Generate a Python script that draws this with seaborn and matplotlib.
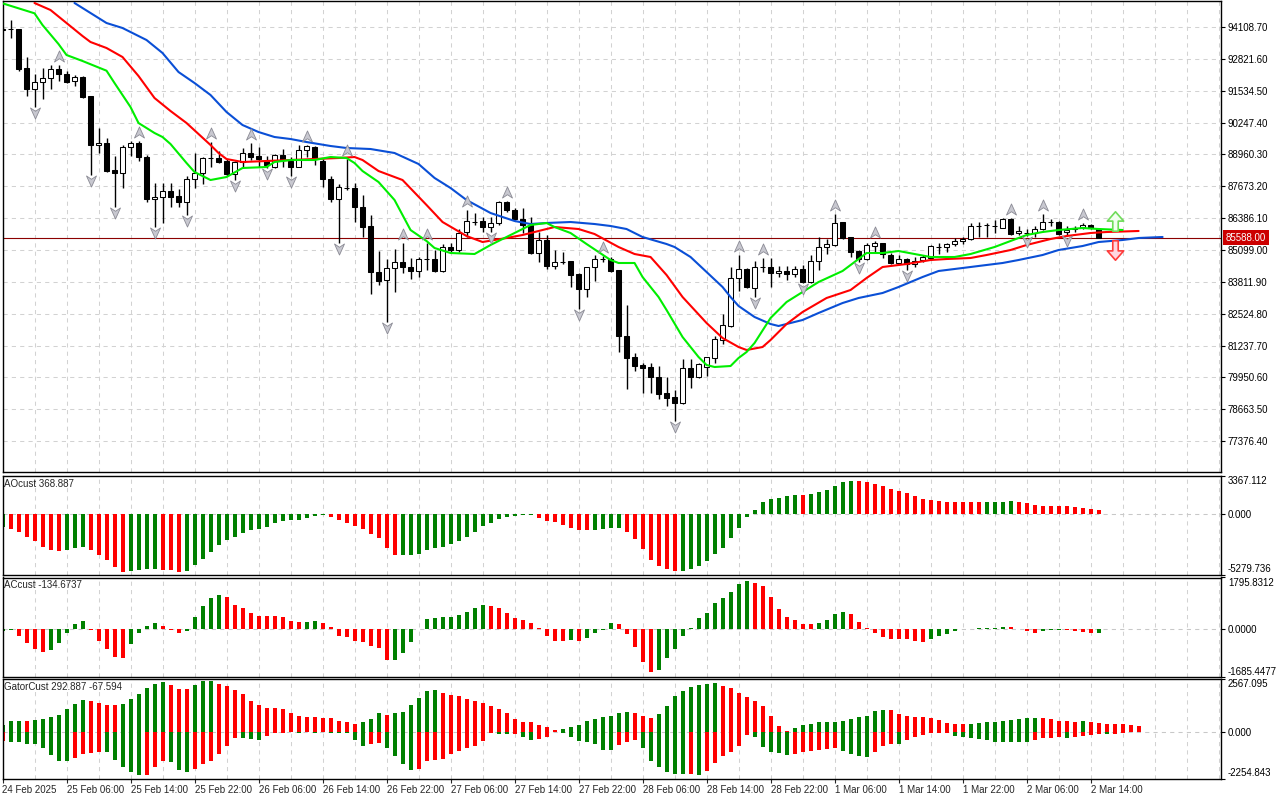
import numpy as np
import matplotlib
matplotlib.use("Agg")
import matplotlib.pyplot as plt
from matplotlib.path import Path
from matplotlib.transforms import offset_copy, blended_transform_factory
import seaborn as sns

sns.set_style("white")
plt.rcParams["font.family"] = ["Liberation Sans", "DejaVu Sans"]
plt.rcParams["font.size"] = 7

# ---------------- data (H1 bars, BTC-like prices) ----------------
time_labels = ["24 Feb 2025", "25 Feb 06:00", "25 Feb 14:00", "25 Feb 22:00",
               "26 Feb 06:00", "26 Feb 14:00", "26 Feb 22:00", "27 Feb 06:00",
               "27 Feb 14:00", "27 Feb 22:00", "28 Feb 06:00", "28 Feb 14:00",
               "28 Feb 22:00", "1 Mar 06:00", "1 Mar 14:00", "1 Mar 22:00",
               "2 Mar 06:00", "2 Mar 14:00"]

opens = [94007, 94027, 94030, 92452, 91603, 91886, 92048, 92411, 92209, 91927,
         92088, 91321, 89341, 89422, 88331, 88210, 89260, 89422, 88856, 87159,
         87240, 87483, 87281, 87038, 87967, 88210, 88816, 88816, 88695, 88169,
         88654, 89018, 88897, 88695, 88452, 88937, 88695, 88452, 89139, 89260,
         88695, 87967, 87159, 87610, 87604, 86836, 86069, 84210, 83887, 84372,
         84614, 84412, 84250, 84735, 84735, 84250, 85220, 85099, 85826, 86230,
         86271, 86028, 86190, 87038, 86715, 86351, 86109, 84978, 85503, 84453,
         84614, 84655, 84129, 83523, 84412, 84735, 84735, 84291, 81625, 80776,
         80453, 80372, 79968, 79321, 79160, 78918, 80331, 79968, 80372, 80736,
         81463, 82029, 83968, 84331, 83564, 84412, 84412, 84170, 84250, 84129,
         84331, 83806, 84655, 85220, 85301, 86230, 85624, 85059, 84735, 85260,
         85382, 84897, 84574, 84735, 84533, 84695, 84776, 85220, 85220, 85341,
         85463, 85543, 86069, 86109, 86069, 85988, 86351, 85786, 85786, 85786,
         85947, 86230, 86230, 85826, 85947, 86028, 86109, 85947]
highs = [94068, 94391, 94040, 92896, 92209, 92452, 92573, 92573, 92331, 92169,
         92129, 91321, 90028, 89624, 88897, 89341, 89503, 89503, 88937, 87806,
         87806, 87806, 87563, 88089, 89018, 88856, 89462, 89099, 88775, 88695,
         89220, 89422, 89260, 88897, 88977, 89179, 88856, 89341, 89341, 89301,
         88775, 88089, 87765, 88775, 87806, 87321, 86513, 85059, 84735, 85139,
         85382, 84776, 84816, 85382, 85099, 85341, 85382, 85947, 86715, 86594,
         86432, 86432, 87079, 87079, 86796, 86796, 86432, 85826, 85705, 85099,
         85018, 84655, 84170, 84412, 84897, 84857, 84816, 84291, 82877, 80938,
         80534, 80534, 80412, 79968, 79443, 80695, 80695, 80534, 80776, 81625,
         82513, 84412, 84897, 84372, 84655, 84776, 84776, 84453, 84453, 84453,
         84493, 84897, 85624, 85543, 86554, 86230, 85624, 85099, 85382, 85463,
         85382, 84978, 84897, 84776, 84816, 84897, 85301, 85382, 85382, 85584,
         85624, 86190, 86230, 86190, 86311, 86392, 86392, 86069, 85947, 86069,
         86554, 86351, 86271, 86069, 86069, 86190, 86150, 85988]
lows = [93987, 93664, 92331, 91321, 90876, 91199, 91603, 91927, 91846, 91725,
        91240, 88129, 89018, 88250, 86836, 87604, 88897, 88695, 87038, 86028,
        86190, 86836, 86836, 86513, 87604, 87765, 88452, 88614, 88089, 87927,
        88452, 88735, 88452, 88412, 88412, 88452, 88089, 88452, 88856, 88533,
        87644, 87038, 85382, 87523, 86230, 85624, 83321, 83685, 82190, 83402,
        84170, 83927, 84008, 84291, 84210, 84210, 85018, 85018, 85624, 86109,
        85826, 85826, 86109, 86634, 86311, 85786, 84937, 84614, 84331, 84331,
        84533, 83604, 82715, 83200, 83847, 84614, 84210, 80978, 79483, 80211,
        79321, 79321, 79079, 78797, 78191, 78877, 79524, 79928, 80009, 80534,
        81301, 81988, 83443, 83564, 83200, 84210, 83604, 84008, 83887, 84008,
        83766, 83766, 84291, 84937, 85260, 85543, 84816, 84614, 84695, 85018,
        84776, 84533, 84493, 84291, 84412, 84614, 84695, 84937, 85018, 85260,
        85341, 85503, 85624, 85624, 85786, 85988, 85705, 85705, 85664, 85624,
        85907, 86069, 85705, 85705, 85826, 85947, 85947, 85588]
closes = [94027, 94020, 92411, 91603, 91886, 92048, 92411, 92209, 91886, 92088,
          91280, 89341, 89422, 88290, 88210, 89260, 89422, 88856, 87159, 87240,
          87483, 87240, 87038, 87967, 88210, 88816, 88836, 88654, 88169, 88654,
          89018, 88856, 88775, 88533, 88937, 88735, 88452, 89139, 89301, 88775,
          87967, 87159, 87644, 87600, 86836, 86028, 84210, 83847, 84372, 84614,
          84412, 84250, 84735, 84755, 84250, 85220, 85099, 85786, 86271, 86230,
          86028, 86190, 87038, 86715, 86351, 86109, 84978, 85503, 84453, 84614,
          84614, 84089, 83523, 84412, 84735, 84735, 84250, 81625, 80736, 80412,
          80331, 79968, 79282, 79119, 78918, 80331, 79968, 80493, 80776, 81503,
          82069, 83968, 84331, 83604, 84412, 84412, 84170, 84250, 84129, 84331,
          83806, 84655, 85220, 85341, 86190, 85583, 85018, 84735, 85301, 85382,
          84937, 84574, 84735, 84533, 84655, 84816, 85260, 85220, 85341, 85463,
          85543, 86069, 86069, 86109, 86069, 86351, 85745, 85866, 85786, 85947,
          86230, 86230, 85745, 85907, 85988, 86109, 85988, 85588]
last_price = 85588.00

# alligator lines (already shifted forward: lips 3, teeth 5, jaw 8 bars)
lips_x = [0, 4, 5, 7, 8, 10, 13, 14, 16, 17, 19, 20, 21, 23, 24, 26, 28, 30, 33, 34,
          36, 39, 41, 43, 44, 45, 47, 49, 51, 53, 54, 56, 59, 61, 64, 66, 68, 69, 71, 73,
          76, 77, 79, 80, 82, 83, 85, 87, 88, 89, 91, 92, 93, 94, 96, 98, 100, 102, 105, 106,
          108, 110, 112, 114, 116, 119, 121, 124, 126, 128, 130, 132, 135, 137, 140]
lips_y = [95066, 94662, 94189, 93421, 92977, 92735, 92343, 91846, 90876, 90230,
          89826, 89664, 89381, 88614, 88250, 87927, 88048, 88412, 88452, 88654,
          88735, 88735, 88856, 88816, 88614, 88290, 87846, 87119, 85907, 85463,
          85180, 84978, 84937, 85301, 85786, 86109, 86190, 86028, 85786, 85341,
          84695, 84574, 84574, 84008, 83200, 82675, 81584, 80776, 80453, 80372,
          80412, 80736, 80977, 81342, 82352, 82998, 83402, 83806, 84251, 84493,
          84978, 84978, 85059, 84937, 84816, 84816, 84937, 85220, 85463, 85705,
          85826, 85907, 85988, 85947, 85907]
teeth_x = [4, 6, 8, 10, 11, 13, 15, 17, 19, 21, 23, 26, 27, 28, 30, 33, 36, 39, 42, 44,
           45, 47, 48, 50, 53, 55, 58, 60, 63, 65, 68, 69, 72, 74, 77, 79, 81, 83, 85, 88,
           90, 92, 93, 95, 96, 98, 100, 103, 106, 108, 110, 113, 116, 118, 121, 123, 126, 128,
           131, 133, 136, 138, 142]
teeth_y = [95078, 94795, 94270, 93745, 93502, 93260, 92896, 92129, 91240, 90715,
           90230, 89341, 89018, 88775, 88654, 88695, 88735, 88775, 88816, 88856,
           88735, 88291, 88169, 87927, 86917, 86230, 85664, 85422, 85584, 85705,
           85947, 86028, 85947, 85745, 85220, 84937, 84816, 84089, 83200, 82150,
           81544, 81180, 81059, 81180, 81463, 82109, 82594, 83160, 83483, 83968,
           84412, 84533, 84695, 84735, 84776, 84897, 85099, 85301, 85543, 85664,
           85786, 85826, 85867]
jaw_x = [9, 11, 13, 15, 18, 20, 22, 24, 26, 28, 30, 32, 34, 36, 38, 41, 43, 46, 49, 52,
         54, 56, 58, 61, 64, 66, 68, 71, 74, 76, 78, 80, 83, 84, 86, 88, 90, 91, 92, 94,
         96, 97, 100, 102, 105, 107, 110, 112, 115, 117, 120, 122, 125, 127, 130, 132, 135, 137,
         140, 142, 145]
jaw_y = [95078, 94674, 94270, 94068, 93583, 93058, 92290, 91846, 91361, 90674,
         90149, 89866, 89664, 89583, 89462, 89301, 89220, 89179, 89018, 88574,
         88010, 87604, 87119, 86594, 86271, 86149, 86190, 86230, 86149, 86069,
         85947, 85624, 85341, 85220, 84816, 84210, 83604, 83200, 82837, 82392,
         82109, 82029, 82271, 82554, 82957, 83160, 83362, 83604, 84008, 84251,
         84372, 84453, 84574, 84695, 84897, 85099, 85260, 85422, 85503, 85584,
         85624]

fractal_up = [7, 17, 26, 31, 38, 43, 50, 53, 58, 63, 75, 92, 95, 104, 109, 126, 130, 135]
fractal_dn = [4, 11, 14, 19, 23, 29, 33, 36, 42, 48, 61, 72, 84, 94, 100, 107, 113, 128, 133]

signal_x = [139]
signal_buy = [86290]
signal_sell = [85080]

price_ticks = [77376.40, 78663.50, 79950.60, 81237.70, 82524.80, 83811.90, 85099.00,
               86386.10, 87673.20, 88960.30, 90247.40, 91534.50, 92821.60, 94108.70]

ao_vals = [-1148, -1246, -1542, -1968, -2362, -2854, -3116, -3214, -3116, -2952,
           -2854, -3116, -3542, -4034, -4592, -5084, -4986, -4920, -4822, -4789,
           -4854, -4920, -5084, -4986, -4428, -3936, -3346, -2722, -2230, -1968,
           -1640, -1410, -1246, -1082, -754, -558, -525, -492, -361, -164,
           -66, -262, -492, -754, -984, -1312, -1738, -2066, -2952, -3608,
           -3575, -3542, -3444, -3116, -2952, -2854, -2624, -2296, -1968, -1542,
           -1050, -754, -426, -262, -164, -98, -33, -328, -558, -656,
           -951, -1181, -1345, -1410, -1378, -1246, -1214, -1181, -1542, -2132,
           -3018, -4034, -4494, -4822, -4986, -4953, -4822, -4494, -4100, -3444,
           -2952, -2066, -1214, -262, 426, 1050, 1378, 1476, 1574, 1738,
           1706, 1771, 1968, 2132, 2526, 2854, 2952, 2919, 2854, 2624,
           2460, 2230, 2066, 1902, 1574, 1378, 1246, 1148, 1090, 1085,
           1080, 1075, 1070, 1078, 1086, 1094, 1180, 1082, 984, 820,
           754, 750, 720, 715, 656, 558, 492, 368.887]
ac_vals = [-78, -39, -261, -496, -691, -808, -743, -496, -130, 156,
           261, -39, -417, -691, -978, -1017, -548, -130, 104, 196,
           91, -26, -130, -65, 430, 782, 1069, 1174, 1108, 822,
           717, 548, 456, 454, 451, 430, 287, 222, 248, 287,
           196, 65, -261, -300, -417, -456, -613, -665, -1108, -1095,
           -848, -456, -13, 352, 391, 404, 430, 482, 587, 743,
           822, 782, 717, 561, 391, 326, 196, 13, -261, -417,
           -430, -404, -443, -326, -130, -39, 196, 156, -170, -652,
           -1174, -1500, -1434, -1004, -717, -261, 39, 365, 561, 887,
           1069, 1304, 1565, 1682, 1591, 1500, 1108, 691, 430, 326,
           170, 156, 196, 326, 509, 587, 522, 235, 39, -130,
           -300, -352, -359, -365, -430, -456, -365, -261, -170, -65,
           -13, 7, 13, 20, 39, 78, 65, -2, -65, -130,
           -91, -39, -26, -52, -91, -104, -156, -134.6737]
gator_up = [351, 536, 540, 526, 591, 646, 720, 813, 1090, 1367,
            1551, 1478, 1422, 1293, 1284, 1367, 1607, 1847, 2124, 2346,
            2401, 2290, 2069, 2059, 2290, 2475, 2484, 2346, 2216, 2032,
            1829, 1515, 1293, 1182, 1173, 1090, 905, 776, 739, 730,
            683, 674, 554, 499, 406, 462, 628, 905, 831, 905,
            960, 1293, 1644, 1976, 2013, 1884, 1792, 1736, 1607, 1515,
            1385, 1274, 1108, 905, 628, 499, 462, 351, 222, 111,
            129, 222, 351, 536, 610, 702, 794, 942, 979, 942,
            757, 665, 887, 1256, 1755, 1995, 2179, 2272, 2327, 2364,
            2216, 2124, 1902, 1718, 1478, 1256, 794, 296, 37, 185,
            332, 388, 480, 484, 489, 517, 610, 739, 794, 1016,
            1071, 1053, 887, 757, 739, 702, 665, 573, 425, 388,
            369, 388, 425, 462, 471, 517, 573, 610, 665, 674,
            660, 610, 554, 517, 480, 517, 462, 425, 388, 379,
            369, 351, 292.887]
gator_dn = [-425, -480, -489, -573, -582, -794, -1127, -1404, -1413, -1256,
            -1071, -1016, -979, -988, -1348, -1718, -1939, -2087, -2078, -1681,
            -1404, -1478, -1865, -1958, -1810, -1533, -1404, -1071, -702, -296,
            -314, -332, -369, -185, -55, -46, -18, -55, -18, -55,
            -9, -55, -59, -63, -369, -702, -573, -517, -794, -1164,
            -1570, -1847, -1773, -1404, -1348, -1293, -1071, -924, -794, -702,
            -425, -55, -111, -120, -111, -240, -369, -351, -240, -9,
            -55, -240, -425, -462, -591, -868, -877, -646, -462, -406,
            -776, -1422, -1699, -1921, -2013, -2022, -2013, -2106, -1884, -1515,
            -1182, -960, -702, -148, -259, -739, -960, -997, -1108, -1090,
            -960, -924, -868, -831, -776, -924, -1053, -1145, -1201, -960,
            -683, -591, -600, -369, -222, -129, -74, -37, -28, -185,
            -222, -314, -323, -369, -462, -471, -480, -489, -499, -406,
            -314, -277, -259, -314, -222, -185, -129, -92, -111, -92, -67.594]

# ---------------- style ----------------
GREEN = "#008000"
RED = "#ff0000"
GRID = "#d2d2d2"
DASH = (0, (4, 4))

fig = plt.figure(figsize=(12.8, 8), dpi=100)
fig.patch.set_facecolor("white")


def add_panel(top, bottom):
    return fig.add_axes([2.5 / 1280, 1 - bottom / 800, 1218.5 / 1280, (bottom - top) / 800])


ax = add_panel(1, 472)
ax_ao = add_panel(476, 574.5)
ax_ac = add_panel(577.5, 677)
ax_gt = add_panel(679, 778.5)
XMAX = 152.3

for a in (ax, ax_ao, ax_ac, ax_gt):
    for s in a.spines.values():
        s.set_color("black")
        s.set_linewidth(1)
    for gx in range(4, 153, 4):
        a.axvline(gx, color=GRID, lw=0.75, ls=DASH, zorder=0)
    a.yaxis.tick_right()
    a.tick_params(axis="y", direction="out", length=3, width=0.8, pad=2,
                  labelsize=7, colors="black", right=True, left=False)
    a.set_facecolor("white")

# ---------------- main chart ----------------
for v in price_ticks:
    ax.axhline(v, color=GRID, lw=0.75, ls=DASH, zorder=0)
ax.axhline(last_price, color="#8c0000", lw=0.8, zorder=1)

o, h, l, c = (np.array(v, dtype=float) for v in (opens, highs, lows, closes))
idx = np.arange(len(o))
ax.vlines(idx, l, h, color="black", lw=1, zorder=2)
bull = c >= o
body_lo = np.minimum(o, c)
body_h = np.maximum(np.abs(c - o), 1)
ax.bar(idx, body_h, bottom=body_lo, width=0.55,
       color=np.where(bull, "white", "black"), edgecolor="black",
       linewidth=0.75, zorder=3)

sns.lineplot(x=jaw_x, y=jaw_y, ax=ax, color="#0a4fd6", linewidth=1.5,
             estimator=None, sort=False, zorder=4)
sns.lineplot(x=teeth_x, y=teeth_y, ax=ax, color="#ff0000", linewidth=1.5,
             estimator=None, sort=False, zorder=4)
sns.lineplot(x=lips_x, y=lips_y, ax=ax, color="#00ee00", linewidth=1.5,
             estimator=None, sort=False, zorder=4)

up_head = Path([(0, 0.5), (0.45, -0.5), (0, -0.2), (-0.45, -0.5), (0, 0.5)],
               [Path.MOVETO, Path.LINETO, Path.LINETO, Path.LINETO, Path.CLOSEPOLY])
dn_head = Path([(0, -0.5), (0.45, 0.5), (0, 0.2), (-0.45, 0.5), (0, -0.5)],
               [Path.MOVETO, Path.LINETO, Path.LINETO, Path.LINETO, Path.CLOSEPOLY])
tr_up = offset_copy(ax.transData, fig=fig, y=6.5, units="points")
tr_dn = offset_copy(ax.transData, fig=fig, y=-4.5, units="points")
ax.plot(fractal_up, h[fractal_up], ls="none", marker=up_head, ms=8,
        mfc="#c8c8d0", mec="#8a8a94", mew=0.6, transform=tr_up, zorder=5)
ax.plot(fractal_dn, l[fractal_dn], ls="none", marker=dn_head, ms=8,
        mfc="#c8c8d0", mec="#8a8a94", mew=0.6, transform=tr_dn, zorder=5)

big_up = Path([(-0.14, -0.5), (0.14, -0.5), (0.14, 0.02), (0.42, 0.02), (0, 0.5),
               (-0.42, 0.02), (-0.14, 0.02), (-0.14, -0.5)],
              [Path.MOVETO] + [Path.LINETO] * 6 + [Path.CLOSEPOLY])
big_dn = Path([(-0.14, 0.5), (0.14, 0.5), (0.14, -0.02), (0.42, -0.02), (0, -0.5),
               (-0.42, -0.02), (-0.14, -0.02), (-0.14, 0.5)],
              [Path.MOVETO] + [Path.LINETO] * 6 + [Path.CLOSEPOLY])
ax.plot(signal_x, signal_buy, ls="none", marker=big_up, ms=14,
        mfc="#f2fff0", mec="#6fdc5a", mew=1.2, zorder=6)
ax.plot(signal_x, signal_sell, ls="none", marker=big_dn, ms=14,
        mfc="#ffd6e0", mec="#ff3b3b", mew=1.2, zorder=6)

ax.set_ylim(76130, 95159)
ax.set_yticks(price_ticks)
ax.set_yticklabels([f"{v:.2f}" for v in price_ticks])
trans = blended_transform_factory(ax.transAxes, ax.transData)
ax.text(1.004, last_price, f"{last_price:.2f}", transform=trans, color="white",
        va="center", ha="left", fontsize=7, clip_on=False, zorder=10,
        bbox=dict(boxstyle="square,pad=0.25", fc="#cc0000", ec="none"))


# ---------------- oscillators ----------------
def rising_colors(vals, first):
    vals = np.asarray(vals, dtype=float)
    cols = [first]
    for prev, cur in zip(vals[:-1], vals[1:]):
        cols.append(GREEN if cur > prev else RED)
    return cols


def panel_ticks(a, lo, hi, labels):
    a.set_ylim(lo, hi)
    a.set_yticks([lo, 0, hi])
    a.set_yticklabels(labels)
    tl = a.get_yticklabels()
    tl[0].set_verticalalignment("bottom")
    tl[2].set_verticalalignment("top")
    a.axhline(0, color="#c8c8c8", lw=0.75, ls=DASH, zorder=1)


ax_ao.bar(np.arange(len(ao_vals)), ao_vals, width=0.5,
          color=rising_colors(ao_vals, GREEN), linewidth=0, zorder=2)
panel_ticks(ax_ao, -5279.736, 3367.112, ["-5279.736", "0.000", "3367.112"])

ax_ac.bar(np.arange(len(ac_vals)), ac_vals, width=0.5,
          color=rising_colors(ac_vals, GREEN), linewidth=0, zorder=2)
panel_ticks(ax_ac, -1685.4477, 1795.8312, ["-1685.4477", "0.0000", "1795.8312"])

ax_gt.bar(np.arange(len(gator_up)), gator_up, width=0.5,
          color=rising_colors(gator_up, GREEN), linewidth=0, zorder=2)
ax_gt.bar(np.arange(len(gator_dn)), gator_dn, width=0.5,
          color=rising_colors(np.abs(gator_dn), RED), linewidth=0, zorder=2)
panel_ticks(ax_gt, -2254.843, 2567.095, ["-2254.843", "0.000", "2567.095"])

for a, title, top in ((ax_ao, "AOcust 368.887", 98.5),
                      (ax_ac, "ACcust -134.6737", 99.5),
                      (ax_gt, "GatorCust 292.887 -67.594", 99.5)):
    a.text(2 / 1218.5, 1 - 3 / top, title, transform=a.transAxes,
           va="top", ha="left", fontsize=7)

for a in (ax, ax_ao, ax_ac, ax_gt):
    a.set_xlim(0, XMAX)
    a.set_xlabel("")
    a.set_ylabel("")
    a.set_xticks([])

ax_gt.set_xticks(range(0, 137, 8))
ax_gt.set_xticklabels(time_labels, ha="left")
ax_gt.tick_params(axis="x", direction="out", length=3, width=0.8, pad=2,
                  labelsize=7, bottom=True)

fig.savefig("out.png", dpi=100, facecolor="white")
